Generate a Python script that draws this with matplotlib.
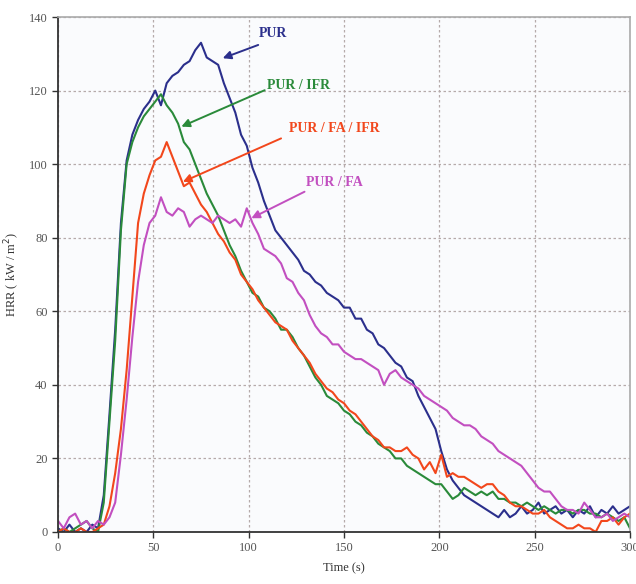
import matplotlib
matplotlib.use('Agg')
import matplotlib.pyplot as plt
import numpy as np

# time axis (s), sampled every 3 s
time_s = np.arange(0, 301, 3)

pur = [1, 0, 2, 0, 1, 0, 2, 1, 10, 32, 55, 84, 101, 108, 112, 115, 117, 120, 116, 122,
       124, 125, 127, 128, 131, 133, 129, 128, 127, 122, 118, 114, 108, 105, 99, 95, 90, 86, 82, 80,
       78, 76, 74, 71, 70, 68, 67, 65, 64, 63, 61, 61, 58, 58, 55, 54, 51, 50, 48, 46,
       45, 42, 41, 37, 34, 31, 28, 22, 17, 14, 12, 10, 9, 8, 7, 6, 5, 4, 6, 4,
       5, 7, 5, 6, 8, 5, 6, 7, 5, 6, 4, 6, 5, 7, 4, 6, 5, 7, 5, 6, 7]

pur_ifr = [0, 1, 0, 1, 2, 3, 1, 0, 8, 30, 52, 82, 100, 106, 110, 113, 115, 117, 119, 116,
           114, 111, 106, 104, 100, 96, 92, 89, 86, 82, 78, 75, 71, 68, 65, 64, 61, 60, 58, 55,
           55, 53, 50, 48, 45, 42, 40, 37, 36, 35, 33, 32, 30, 29, 27, 26, 24, 23, 22, 20,
           20, 18, 17, 16, 15, 14, 13, 13, 11, 9, 10, 12, 11, 10, 11, 10, 11, 9, 9, 8,
           8, 7, 8, 7, 6, 7, 6, 5, 6, 6, 5, 6, 6, 5, 5, 4, 5, 4, 3, 4, 1]

pur_fa_ifr = [0, 1, 0, 0, 1, 0, 0, 1, 2, 7, 16, 28, 44, 64, 84, 92, 97, 101, 102, 106,
              102, 98, 94, 95, 92, 89, 87, 84, 81, 79, 76, 74, 70, 68, 66, 63, 61, 59, 57, 56,
              55, 52, 50, 48, 46, 43, 41, 39, 38, 36, 35, 33, 32, 30, 28, 26, 25, 23, 23, 22,
              22, 23, 21, 20, 17, 19, 16, 21, 15, 16, 15, 15, 14, 13, 12, 13, 13, 11, 10, 8,
              7, 7, 6, 5, 5, 6, 4, 3, 2, 1, 1, 2, 1, 1, 0, 3, 3, 4, 2, 4, 5]

pur_fa = [3, 1, 4, 5, 2, 3, 1, 3, 2, 4, 8, 21, 36, 53, 68, 78, 84, 86, 91, 87,
          86, 88, 87, 83, 85, 86, 85, 84, 86, 85, 84, 85, 83, 88, 84, 81, 77, 76, 75, 73,
          69, 68, 65, 63, 59, 56, 54, 53, 51, 51, 49, 48, 47, 47, 46, 45, 44, 40, 43, 44,
          42, 41, 40, 39, 37, 36, 35, 34, 33, 31, 30, 29, 29, 28, 26, 25, 24, 22, 21, 20,
          19, 18, 16, 14, 12, 11, 11, 9, 7, 6, 6, 5, 8, 6, 4, 4, 5, 3, 4, 5, 4]

series = [
    ('PUR', pur, '#2b2f8c'),
    ('PUR / IFR', pur_ifr, '#2a8a3a'),
    ('PUR / FA / IFR', pur_fa_ifr, '#f2471c'),
    ('PUR / FA', pur_fa, '#c24fc0'),
]

# label text position, arrow tail, arrow head (data coords)
labels = {
    'PUR': ((113, 135.6), (105, 132.4), (86.4, 128.8)),
    'PUR / IFR': ((126, 121.5), (108.4, 120.1), (64.7, 110.2)),
    'PUR / FA / IFR': ((145, 109.8), (117, 107.0), (65.5, 95.2)),
    'PUR / FA': ((145, 94.9), (129.3, 92.5), (101.4, 85.3)),
}

plt.rcParams['font.family'] = ['Liberation Serif', 'DejaVu Serif']

fig = plt.figure(figsize=(6.36, 5.84), dpi=100)
ax = fig.add_axes([58 / 636, 52 / 584, 572 / 636, 515 / 584])
ax.set_facecolor('#fafbfd')

for name, vals, color in series:
    ax.plot(time_s, vals, color=color, linewidth=1.5)

for name, vals, color in series:
    (tx, ty), tail, head = labels[name]
    ax.text(tx, ty, name, color=color, fontsize=10, fontweight='bold',
            ha='center', va='center')
    ax.annotate('', xy=head, xytext=tail,
                arrowprops=dict(arrowstyle='-|>', color=color, lw=1.4,
                                mutation_scale=12, shrinkA=0, shrinkB=0))

ax.set_xlim(0, 300)
ax.set_ylim(0, 140)
ax.set_xticks(range(0, 301, 50))
ax.set_yticks(range(0, 141, 20))
ax.grid(True, color='#b5aaaa', linestyle=(0, (2, 2)), linewidth=0.9)
ax.tick_params(direction='out', length=4, width=1, labelsize=9, colors='#333333',
               labelcolor='#555555')

for side in ['left', 'bottom']:
    ax.spines[side].set_color('#333333')
    ax.spines[side].set_linewidth(1.3)
for side in ['top', 'right']:
    ax.spines[side].set_color('#aaaaaa')
    ax.spines[side].set_linewidth(1.2)

ax.set_xlabel('Time (s)', fontsize=9, color='#333333', labelpad=6)
ax.set_ylabel('HRR ( kW / m$^{2}$)', fontsize=9, color='#333333', labelpad=5)

plt.savefig('out.png', dpi=100)
